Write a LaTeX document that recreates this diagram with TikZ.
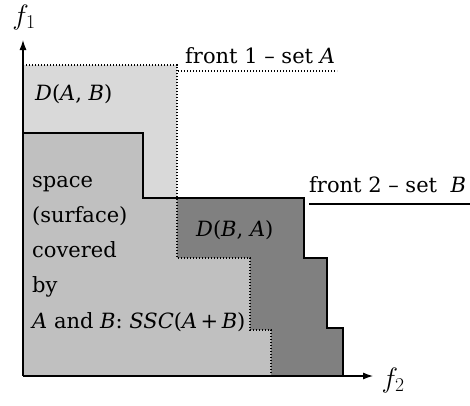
\RequirePackage{fix-cm}
\documentclass[tikz,border=0pt]{standalone}
\usepackage{fontspec}
\setmainfont{DejaVu Serif}
\usetikzlibrary{arrows.meta}

\definecolor{lightfill}{RGB}{217,217,217}
\definecolor{midfill}{RGB}{192,192,192}
\definecolor{darkfill}{RGB}{128,128,128}

\newcommand\vr[1]{\textit{#1}}

\tikzset{
  axis/.style={line width=1.1pt, -{Latex[length=10pt,width=7pt]}},
  frontA/.style={line width=1.6pt, dash pattern=on 1.4pt off 1.6pt},
  frontB/.style={line width=2.4pt},
  lbl/.style={inner sep=0pt, font=\fontsize{21}{35}\selectfont},
  axlbl/.style={inner sep=0pt, font=\fontsize{28}{34}\selectfont},
}

\begin{document}
\begin{tikzpicture}[x=1pt,y=-1pt]
  \useasboundingbox (0,0) rectangle (470,405);

  % region dominated by front 1 (set A)
  \fill[lightfill] (23,376) -- (23,65) -- (177,65) -- (177,258) -- (250,258)
    -- (250,330) -- (271,330) -- (271,376) -- cycle;
  % region dominated by front 2 (set B)
  \fill[darkfill] (23,376) -- (23,133) -- (143,133) -- (143,198) -- (304,198)
    -- (304,258) -- (327,258) -- (327,328) -- (343,328) -- (343,376) -- cycle;
  % region dominated by both fronts
  \fill[midfill] (23,376) -- (23,133) -- (143,133) -- (143,198) -- (177,198)
    -- (177,258) -- (250,258) -- (250,330) -- (271,330) -- (271,376) -- cycle;

  % front 1: dotted staircase and its label line
  \draw[frontA] (23,65) -- (177,65) -- (177,258) -- (250,258) -- (250,330)
    -- (271,330) -- (271,376);
  \draw[frontA] (178,71) -- (337,71);

  % front 2: solid staircase and its label line
  \draw[frontB] (23,133) -- (143,133) -- (143,198) -- (304,198) -- (304,258)
    -- (327,258) -- (327,328) -- (343,328) -- (343,376);
  \draw[frontB] (309,204) -- (470,204);

  % axes
  \coordinate (O) at (23,376);
  \coordinate (ytip) at (23,40);
  \coordinate (xtip) at (373,376);
  \draw[axis] (O) -- (ytip);
  \draw[axis] (O) -- (xtip);
  \node[axlbl] (f1lbl) at (24,17) {$f_1$};
  \node[axlbl] (f2lbl) at (393,380) {$f_2$};

  % labels
  \node[lbl, anchor=base west] (frontAlbl) at (185,63) {front 1 – set \vr{A}};
  \node[lbl, anchor=base west] (frontBlbl) at (309,192) {front 2 – set\ \ \vr{B}};
  \node[lbl, anchor=base west] (dab) at (35,100) {\vr{D}(\vr{A}, \vr{B})};
  \node[lbl, anchor=base west] (dba) at (196,236) {\vr{D}(\vr{B}, \vr{A})};

  \node[lbl, anchor=base west] (ssc1) at (32,187) {space};
  \node[lbl, anchor=base west] (ssc2) at (32,222) {(surface)};
  \node[lbl, anchor=base west] (ssc3) at (32,257) {covered};
  \node[lbl, anchor=base west] (ssc4) at (32,292) {by};
  \node[lbl, anchor=base west] (ssc5) at (32,328)
    {\vr{A} and \vr{B}: \vr{SSC}(\vr{A}\,+\,\vr{B})};
\end{tikzpicture}
\end{document}
